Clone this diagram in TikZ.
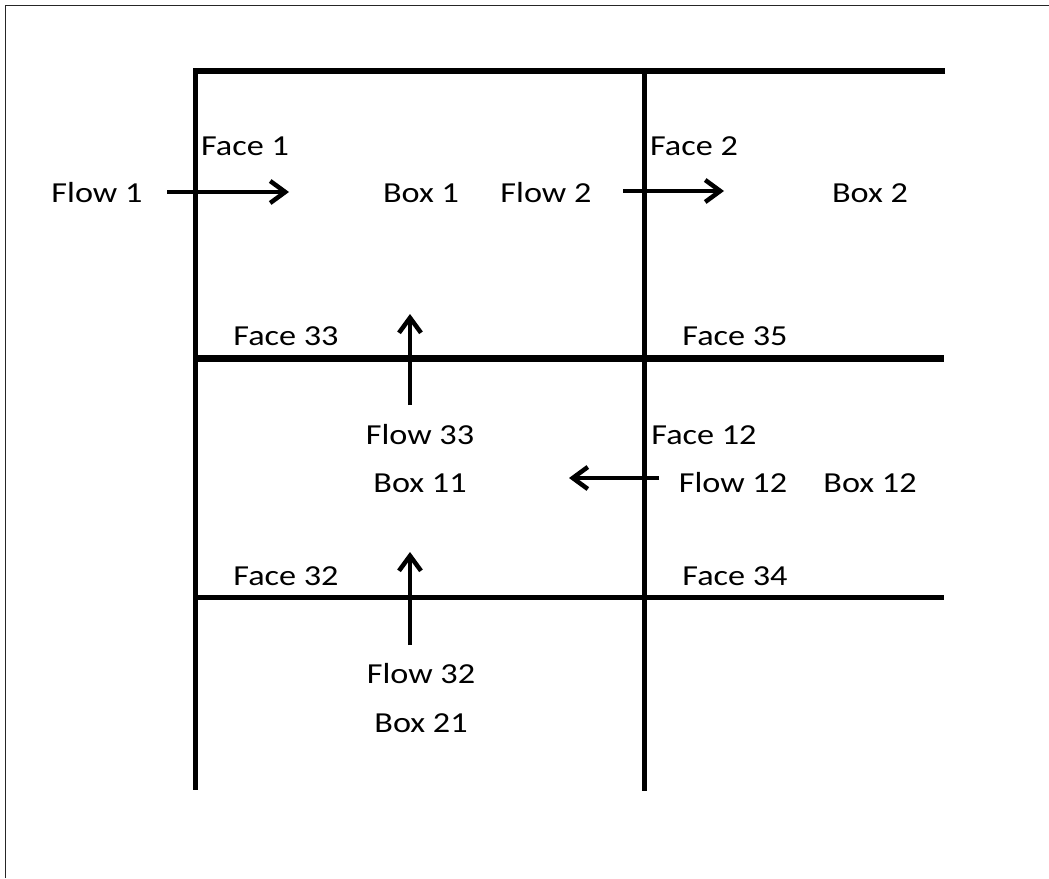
\documentclass[tikz,border=0pt]{standalone}
\usepackage{fontspec}
\setmainfont[FakeStretch=1.18]{Carlito}
\usetikzlibrary{arrows.meta}
\begin{document}
\begin{tikzpicture}[x=1pt,y=-1pt,
  lbl/.style={anchor=base,inner sep=0pt,font=\fontsize{29}{34}\selectfont},
  wall/.style={line width=5.5pt,line cap=butt,line join=miter},
  flowarrow/.style={line width=4.5pt,-{Straight Barb[length=15pt,width=22pt]}}]
  \useasboundingbox (0,0) rectangle (1049,878);
  % frame edges
  \draw[line width=1.8pt,black!85] (5.5,878) -- (5.5,5.5) -- (1049,5.5);

  % grid of boxes
  \draw[wall] (945,71) -- (195.5,71) -- (195.5,790);
  \draw[wall] (644.5,71) -- (644.5,791);
  \draw[line width=7pt] (195,358) -- (944,358);
  \draw[line width=4.5pt] (193,597.5) -- (944,597.5);

  % labels
  \node[lbl] (face1)  at (245,155) {Face 1};
  \node[lbl] (flow1)  at (97,202)  {Flow 1};
  \node[lbl] (box1)   at (421,202) {Box 1};
  \node[lbl] (flow2)  at (546,202) {Flow 2};
  \node[lbl] (face2)  at (694,155) {Face 2};
  \node[lbl] (box2)   at (870,202) {Box 2};
  \node[lbl] (face33) at (286,345) {Face 33};
  \node[lbl] (face35) at (735,345) {Face 35};
  \node[lbl] (flow33) at (420,444) {Flow 33};
  \node[lbl] (box11)  at (420,492) {Box 11};
  \node[lbl] (face12) at (704,444) {Face 12};
  \node[lbl] (flow12) at (733,492) {Flow 12};
  \node[lbl] (box12)  at (870,492) {Box 12};
  \node[lbl] (face32) at (286,585) {Face 32};
  \node[lbl] (face34) at (735,585) {Face 34};
  \node[lbl] (flow32) at (421,683) {Flow 32};
  \node[lbl] (box21)  at (421,732) {Box 21};

  % flow arrow end points
  \coordinate (f1s) at (167,192);  \coordinate (f1e) at (289,192);
  \coordinate (f2s) at (623,191);  \coordinate (f2e) at (724,191);
  \coordinate (f33s) at (410,405); \coordinate (f33e) at (410,314);
  \coordinate (f32s) at (410,645); \coordinate (f32e) at (410,552);
  \coordinate (f12s) at (659,478); \coordinate (f12e) at (569,478);

  \draw[flowarrow] (f1s) -- (f1e);
  \draw[flowarrow] (f2s) -- (f2e);
  \draw[flowarrow] (f33s) -- (f33e);
  \draw[flowarrow] (f32s) -- (f32e);
  \draw[flowarrow] (f12s) -- (f12e);
\end{tikzpicture}
\end{document}
